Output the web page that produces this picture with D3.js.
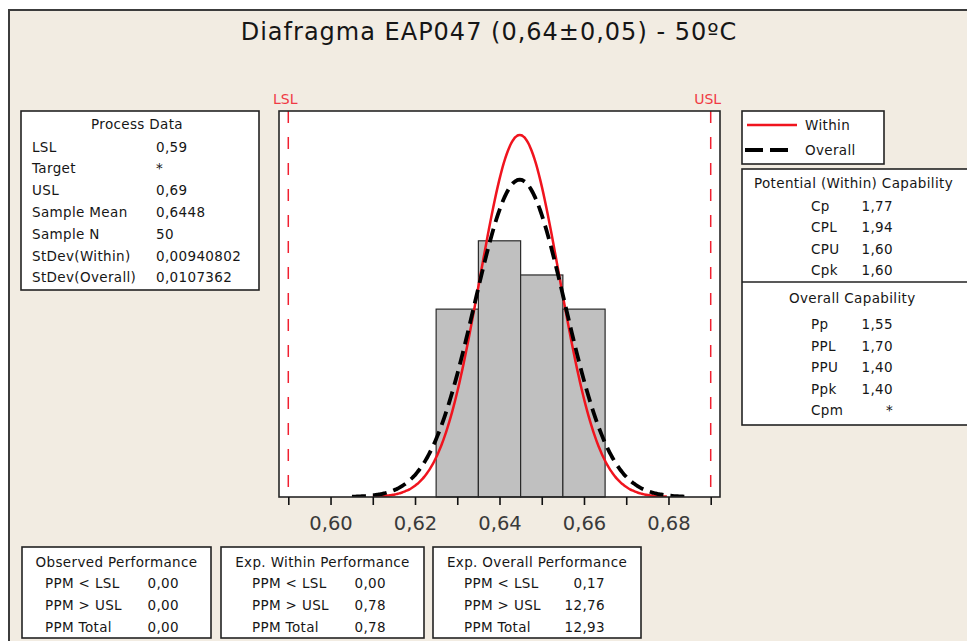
<!DOCTYPE html>
<html>
<head>
    <meta charset="utf-8">
    <title>Process Capability</title>
    <script src="https://d3js.org/d3.v7.min.js"></script>
    <style>
        body { margin: 0; background: #fff; }
        text { font-family: "DejaVu Sans", sans-serif; fill: #161616; }
    </style>
</head>

<body>
<div id="chart"></div>
<script type="text/javascript">

    // dados
    const title = "Diafragma EAP047 (0,64±0,05) - 50ºC";
    const binStarts = [0.625, 0.635, 0.645, 0.655];
    const binCounts = [11, 15, 13, 11];
    const binWidth = 0.01;
    const LSL = 0.59, USL = 0.69;
    const sampleMean = 0.6448;
    const sampleN = 50;
    const stdevWithin = 0.00940802;
    const stdevOverall = 0.0107362;
    const xTicks = [0.59, 0.60, 0.61, 0.62, 0.63, 0.64, 0.65, 0.66, 0.67, 0.68, 0.69];
    const xTickLabels = ["", "0,60", "", "0,62", "", "0,64", "", "0,66", "", "0,68", ""];

    const processLabels = ["LSL", "Target", "USL", "Sample Mean", "Sample N", "StDev(Within)", "StDev(Overall)"];
    const processValues = ["0,59", "*", "0,69", "0,6448", "50", "0,00940802", "0,0107362"];

    const withinLabels = ["Cp", "CPL", "CPU", "Cpk"];
    const withinValues = ["1,77", "1,94", "1,60", "1,60"];
    const overallLabels = ["Pp", "PPL", "PPU", "Ppk", "Cpm"];
    const overallValues = ["1,55", "1,70", "1,40", "1,40", "*"];

    const ppmLabels = ["PPM < LSL", "PPM > USL", "PPM Total"];
    const observedPPM = ["0,00", "0,00", "0,00"];
    const expWithinPPM = ["0,00", "0,78", "0,78"];
    const expOverallPPM = ["0,17", "12,76", "12,93"];

    let W = 967, H = 641;
    let svg = d3.select("#chart")
        .append("svg")
            .attr("width", W)
            .attr("height", H);

    // moldura da janela
    svg.append("rect")
        .attr("x", 9).attr("y", 10)
        .attr("width", W + 20).attr("height", H + 20)
        .attr("fill", "#f2ece2")
        .attr("stroke", "#3c3c3c")
        .attr("stroke-width", 2);

    svg.append("text")
        .attr("x", 489).attr("y", 39.5)
        .attr("text-anchor", "middle")
        .attr("font-size", "24px")
        .attr("letter-spacing", "1px")
        .text(title);

    // área do gráfico
    let plot = {left: 279, top: 111, right: 720, bottom: 497};

    let xScale = d3.scaleLinear()
        .domain([0.5878, 0.6922])
        .range([plot.left, plot.right]);

    let yScale = d3.scaleLinear()
        .domain([0, 22.6])
        .range([plot.bottom, plot.top]);

    svg.append("defs").append("clipPath")
        .attr("id", "clip")
        .append("rect")
            .attr("x", plot.left).attr("y", plot.top)
            .attr("width", plot.right - plot.left)
            .attr("height", plot.bottom - plot.top);

    svg.append("rect")
        .attr("x", plot.left).attr("y", plot.top)
        .attr("width", plot.right - plot.left)
        .attr("height", plot.bottom - plot.top)
        .attr("fill", "#fff");

    svg.selectAll("rect.bar")
        .data(binStarts)
        .enter()
        .append("rect")
        .attr("class", "bar")
        .attr("x", function(d) { return xScale(d); })
        .attr("width", function(d) { return xScale(d + binWidth) - xScale(d); })
        .attr("y", function(d, i) { return yScale(binCounts[i]); })
        .attr("height", function(d, i) { return yScale(0) - yScale(binCounts[i]); })
        .attr("fill", "#c0c0c0")
        .attr("stroke", "#2a2a2a")
        .attr("stroke-width", 1.2);

    // curvas normais a partir da média e desvios
    function normalCurve(sd) {
        let lo = sampleMean - 3.7 * sd, hi = sampleMean + 3.7 * sd;
        return d3.range(lo, hi + 1e-9, (hi - lo) / 200).map(function(x) {
            let z = (x - sampleMean) / sd;
            return [x, sampleN * binWidth * Math.exp(-0.5 * z * z) / (sd * Math.sqrt(2 * Math.PI))];
        });
    }

    let line = d3.line()
        .x(function(d) { return xScale(d[0]); })
        .y(function(d) { return yScale(d[1]); })
        .curve(d3.curveBasis);

    let curves = svg.append("g").attr("clip-path", "url(#clip)");

    curves.append("path")
        .attr("d", line(normalCurve(stdevWithin)))
        .attr("fill", "none")
        .attr("stroke", "#f0141e")
        .attr("stroke-width", 2.5);

    curves.append("path")
        .attr("d", line(normalCurve(stdevOverall)))
        .attr("fill", "none")
        .attr("stroke", "#000")
        .attr("stroke-width", 3.8)
        .attr("stroke-dasharray", "14,7");

    // linhas de especificação
    [LSL, USL].forEach(function(v, i) {
        svg.append("line")
            .attr("x1", xScale(v)).attr("x2", xScale(v))
            .attr("y1", plot.top).attr("y2", plot.bottom)
            .attr("stroke", "#f02030")
            .attr("stroke-width", 1.5)
            .attr("stroke-dasharray", "12,14");
        svg.append("text")
            .attr("x", xScale(v) - 3).attr("y", 104)
            .attr("text-anchor", "middle")
            .attr("font-size", "14px")
            .style("fill", "#f03a44")
            .text(i == 0 ? "LSL" : "USL");
    });

    svg.append("rect")
        .attr("x", plot.left).attr("y", plot.top)
        .attr("width", plot.right - plot.left)
        .attr("height", plot.bottom - plot.top)
        .attr("fill", "none")
        .attr("stroke", "#262626")
        .attr("stroke-width", 1.6);

    let xAxis = d3.axisBottom(xScale)
        .tickValues(xTicks)
        .tickFormat(function(d, i) { return xTickLabels[i]; })
        .tickSize(8)
        .tickSizeOuter(0)
        .tickPadding(11);

    let gx = svg.append("g")
        .attr("transform", "translate(0," + plot.bottom + ")")
        .call(xAxis);
    gx.select(".domain").remove();
    gx.selectAll(".tick line").attr("stroke", "#111").attr("stroke-width", 1.6);
    gx.selectAll(".tick text")
        .attr("font-family", "DejaVu Sans, sans-serif")
        .attr("font-size", "19.5px")
        .style("fill", "#3a3a3a");

    // caixas de texto
    function box(x, y, w, h) {
        svg.append("rect")
            .attr("x", x).attr("y", y)
            .attr("width", w).attr("height", h)
            .attr("fill", "#fff")
            .attr("stroke", "#222")
            .attr("stroke-width", 1.6);
    }

    function label(x, y, s, anchor) {
        svg.append("text")
            .attr("x", x).attr("y", y)
            .attr("text-anchor", anchor || "start")
            .attr("font-size", "13.5px")
            .attr("letter-spacing", "0.35px")
            .text(s);
    }

    // Process Data
    box(21, 111, 238, 179);
    label(137, 129, "Process Data", "middle");
    processLabels.forEach(function(s, i) {
        label(32, 151.5 + i * 21.8, s);
        label(156, 151.5 + i * 21.8, processValues[i]);
    });

    // legenda
    box(742, 111, 142, 53);
    svg.append("line")
        .attr("x1", 747).attr("x2", 797).attr("y1", 125).attr("y2", 125)
        .attr("stroke", "#f0141e").attr("stroke-width", 2.5);
    label(805, 130, "Within");
    svg.append("line")
        .attr("x1", 745).attr("x2", 789).attr("y1", 150).attr("y2", 150)
        .attr("stroke", "#000").attr("stroke-width", 4)
        .attr("stroke-dasharray", "18,7");
    label(805, 155, "Overall");

    // capacidade
    box(742, 169, 260, 256);
    svg.append("line")
        .attr("x1", 742).attr("x2", W).attr("y1", 282).attr("y2", 282)
        .attr("stroke", "#222").attr("stroke-width", 1.6);
    label(754, 188, "Potential (Within) Capability");
    withinLabels.forEach(function(s, i) {
        label(811, 211 + i * 21.3, s);
        label(893, 211 + i * 21.3, withinValues[i], "end");
    });
    label(789, 303, "Overall Capability");
    overallLabels.forEach(function(s, i) {
        label(811, 329 + i * 21.5, s);
        label(893, 329 + i * 21.5, overallValues[i], "end");
    });

    // desempenho
    let perf = [
        {title: "Observed Performance", x: 22, w: 189, lx: 45, vx: 179, values: observedPPM},
        {title: "Exp. Within Performance", x: 221, w: 203, lx: 252, vx: 386, values: expWithinPPM},
        {title: "Exp. Overall Performance", x: 433, w: 208, lx: 464, vx: 605, values: expOverallPPM}
    ];
    perf.forEach(function(p) {
        box(p.x, 547, p.w, 91);
        label(p.x + p.w / 2, 567, p.title, "middle");
        ppmLabels.forEach(function(s, i) {
            label(p.lx, 588 + i * 22, s);
            label(p.vx, 588 + i * 22, p.values[i], "end");
        });
    });

</script>
</body>
</html>
